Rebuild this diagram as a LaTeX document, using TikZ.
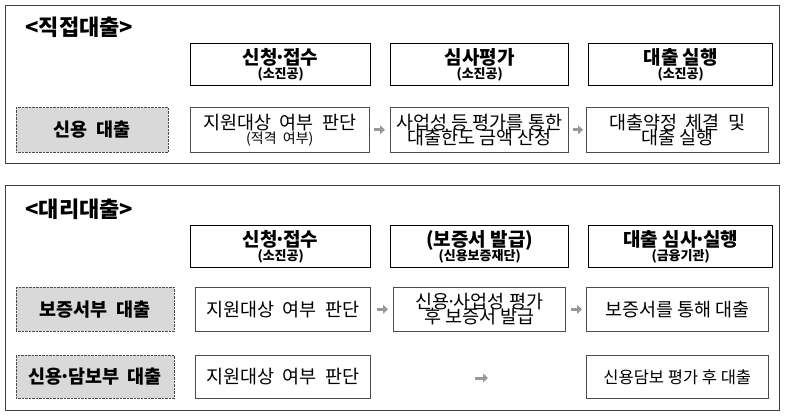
\documentclass[tikz,border=0pt]{standalone}
\usepackage{fontspec}
\setmainfont{Noto Sans CJK KR}
\usetikzlibrary{arrows.meta}
\newcommand{\md}{\kern-3pt·\kern-3pt}
\begin{document}
\begin{tikzpicture}[x=1pt,y=-1pt,
 panel/.style={draw=black!75,line width=0.8pt},
 hdr/.style={draw,line width=1.4pt,align=center,inner sep=1pt,font=\bfseries\fontsize{19}{19}\selectfont},
 lab/.style={draw=black!70,densely dotted,fill=black!15,font=\bfseries\fontsize{18.5}{20}\selectfont},
 cell/.style={draw=black!70,line width=0.6pt,align=center,inner sep=1pt,font=\fontsize{18.5}{19}\selectfont},
 ar/.style={-{Triangle[length=5pt,width=9pt]},line width=3pt,draw=black!40}]
\useasboundingbox (0,0) rectangle (785,417);
\draw[panel] (5,5) rectangle (779,163);
\draw[panel] (5,185) rectangle (779,410);
\node[anchor=west,font=\bfseries\fontsize{22}{22}\selectfont] (t1) at (22,27) {<직접대출>};
\node[anchor=west,font=\bfseries\fontsize{22}{22}\selectfont] (t2) at (22,209) {<대리대출>};
\newcommand{\hdrbox}[5]{\node[hdr,minimum width=#3,minimum height=42,anchor=north west] (#1) at (#2) {#4\\[-5pt]{\fontsize{13}{13}\selectfont #5}};}
\hdrbox{h1}{190,43}{180}{신청\md 접수}{(소진공)}
\hdrbox{h2}{390,43}{178}{심사평가}{(소진공)}
\hdrbox{h3}{588,43}{184}{대출 실행}{(소진공)}
\hdrbox{g1}{190,225}{180}{신청\md 접수}{(소진공)}
\hdrbox{g2}{390,225}{178}{(보증서 발급)}{(신용보증재단)}
\hdrbox{g3}{588,225}{184}{대출 심사\md 실행}{(금융기관)}
\node[lab,minimum width=152,minimum height=45,anchor=north west] (l1) at (16,107) {신용\ \ 대출};
\node[cell,minimum width=179,minimum height=45,anchor=north west] (a1) at (190,107) {지원대상\ \ 여부\ \ 판단\\[-5pt]{\fontsize{14}{14}\selectfont (적격\ \ 여부)}};
\node[cell,minimum width=178,minimum height=45,anchor=north west] (a2) at (390,107) {사업성 등 평가를 통한\\[-4pt]대출한도 금액 산정};
\node[cell,minimum width=182,minimum height=45,anchor=north west] (a3) at (586,107) {대출약정\ \ 체결\ \ 및\\[-4pt]대출 실행};
\draw[ar] ([xshift=4pt]a1.east) -- ([xshift=-5pt]a2.west);
\draw[ar] ([xshift=4pt]a2.east) -- ([xshift=-3pt]a3.west);
\node[lab,minimum width=158,minimum height=44,anchor=north west] (l2) at (16,287) {보증서부\ \ 대출};
\node[cell,minimum width=175,minimum height=44,anchor=north west] (b1) at (195,287) {지원대상\ \ 여부\ \ 판단};
\node[cell,minimum width=172,minimum height=44,anchor=north west] (b2) at (393,287) {신용\md 사업성 평가\\[-4pt]후 보증서 발급};
\node[cell,minimum width=182,minimum height=44,anchor=north west] (b3) at (586,287) {보증서를 통해 대출};
\draw[ar] ([xshift=6pt]b1.east) -- ([xshift=-5pt]b2.west);
\draw[ar] ([xshift=5pt]b2.east) -- ([xshift=-4pt]b3.west);
\node[lab,minimum width=158,minimum height=43,anchor=north west] (l3) at (16,355) {신용\md 담보부\ \ 대출};
\node[cell,minimum width=175,minimum height=43,anchor=north west] (c1) at (195,355) {지원대상\ \ 여부\ \ 판단};
\node[cell,minimum width=182,minimum height=43,anchor=north west,font=\fontsize{16.5}{18}\selectfont] (c3) at (586,355) {신용담보 평가 후 대출};
\coordinate (m1) at (475,378);
\coordinate (m2) at (488,378);
\draw[ar] (m1) -- (m2);
\end{tikzpicture}
\end{document}
